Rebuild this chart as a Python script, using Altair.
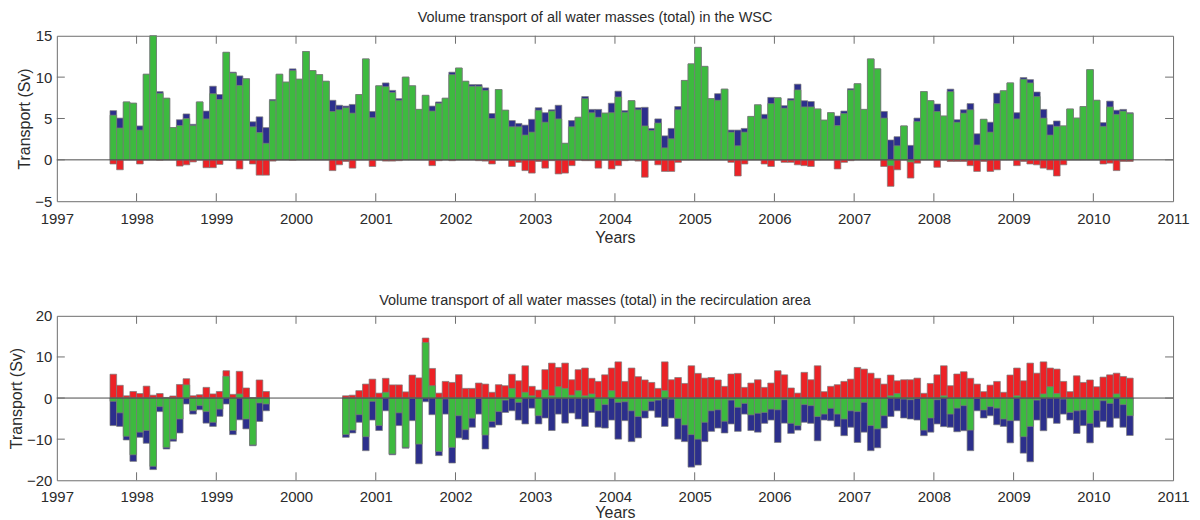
import altair as alt
import pandas as pd

# ---------------- data (monthly, Sep 1997 .. Jun 2010) ----------------
START_YEAR = 1997
START_MONTH = 9
YEAR_TICKS = list(range(1997, 2012))

# WSC panel: total positive (blue), green component, negative part (red)
wsc_blue = [5.95, 5.05, 7.0, 6.85, 4.1, 10.35, 15.0, 8.25, 7.45, 3.9, 4.85, 5.55, 4.3, 7.0, 5.9, 8.9,
            7.9, 13.0, 10.6, 10.15, 9.8, 4.6, 5.2, 3.9, 7.3, 10.35, 9.4, 11.0, 9.75, 13.1, 10.8, 10.3,
            9.5, 7.2, 6.6, 6.5, 6.7, 7.9, 12.2, 5.85, 8.95, 9.3, 8.4, 7.4, 10.0, 8.95, 6.1, 7.8,
            6.5, 7.0, 7.45, 10.6, 11.1, 9.5, 9.1, 9.1, 8.7, 5.6, 8.5, 6.0, 4.75, 4.4, 4.2, 4.9,
            6.3, 5.7, 6.05, 6.6, 2.0, 4.75, 5.15, 7.65, 6.1, 6.1, 5.65, 6.85, 8.3, 5.95, 7.15, 6.3,
            6.35, 3.8, 4.95, 2.9, 3.8, 6.45, 9.6, 11.6, 13.6, 11.3, 7.4, 8.0, 8.55, 3.6, 3.6, 3.8,
            5.25, 6.65, 5.5, 7.55, 7.5, 6.55, 7.4, 9.15, 7.15, 7.05, 6.15, 4.8, 5.7, 5.3, 5.9, 8.6,
            9.2, 6.1, 12.2, 11.0, 5.85, 2.4, 2.8, 4.1, 1.75, 5.05, 8.25, 7.15, 6.75, 5.3, 8.55, 4.85,
            6.05, 6.8, 3.15, 4.9, 4.55, 8.05, 8.35, 9.3, 5.7, 9.95, 9.7, 8.2, 6.1, 4.25, 4.7, 4.1,
            6.15, 5.05, 6.45, 10.9, 7.2, 4.5, 7.1, 6.0, 6.1, 5.7]
wsc_green = [5.4, 3.85, 7.0, 6.85, 3.6, 10.35, 15.0, 8.05, 7.45, 3.9, 4.15, 5.0, 4.15, 7.0, 4.95, 8.0,
             7.3, 13.0, 10.5, 9.0, 9.8, 4.0, 3.3, 2.0, 7.15, 10.35, 9.4, 10.8, 9.75, 13.1, 10.8, 10.3,
             9.5, 5.85, 6.05, 6.3, 5.65, 7.9, 12.2, 5.1, 8.95, 8.85, 8.15, 7.2, 10.0, 8.95, 6.1, 7.8,
             5.9, 6.85, 7.45, 10.3, 11.1, 9.5, 8.9, 8.9, 8.4, 5.0, 8.5, 6.0, 4.0, 4.0, 3.0, 3.35,
             6.0, 4.55, 5.9, 4.95, 2.0, 4.0, 5.15, 7.4, 5.7, 5.15, 5.65, 5.7, 7.6, 5.75, 7.15, 6.05,
             4.1, 3.55, 4.45, 1.45, 2.55, 6.05, 9.6, 11.6, 13.6, 11.3, 7.4, 7.2, 8.55, 3.35, 1.7, 3.35,
             5.25, 6.65, 4.95, 6.8, 7.5, 6.25, 7.2, 8.45, 6.4, 6.4, 6.15, 4.8, 5.7, 4.15, 5.6, 8.45,
             9.2, 6.1, 12.2, 11.0, 5.05, -0.7, 1.7, 4.1, -0.25, 4.65, 8.25, 7.15, 5.85, 5.3, 8.25, 4.55,
             5.65, 6.05, 1.8, 4.9, 3.35, 6.8, 8.35, 9.3, 4.95, 9.75, 9.3, 7.65, 5.05, 3.0, 4.05, 4.1,
             6.15, 5.05, 6.45, 10.9, 7.2, 4.05, 6.4, 5.5, 5.9, 5.6]
wsc_red = [-0.5, -1.2, 0.0, 0.0, -0.5, 0.0, 0.0, -0.05, 0.0, 0.0, -0.75, -0.6, -0.25, 0.0, -0.95, -0.95,
           -0.55, 0.0, -0.05, -1.1, 0.0, -0.5, -1.85, -1.85, -0.15, 0.0, 0.0, -0.05, 0.0, 0.0, 0.0, 0.0,
           0.0, -1.3, -0.6, -0.2, -1.0, 0.0, 0.0, -0.8, 0.0, -0.15, -0.15, -0.1, 0.0, 0.0, 0.0, 0.0,
           -0.7, -0.1, 0.0, -0.1, 0.0, 0.0, 0.0, -0.1, -0.15, -0.5, 0.0, 0.0, -0.8, -0.3, -1.3, -1.6,
           -0.2, -1.0, -0.1, -1.7, -1.6, -0.7, 0.0, -0.1, -0.1, -1.0, 0.0, -1.1, -0.7, -0.1, 0.0, -0.15,
           -2.1, 0.0, -0.6, -1.4, -1.4, -0.3, 0.0, 0.0, 0.0, 0.0, 0.0, 0.0, 0.0, -0.3, -1.95, -0.5,
           0.0, 0.0, -0.5, -0.8, 0.0, -0.3, -0.3, -0.6, -0.7, -0.8, 0.0, 0.0, 0.0, -1.1, -0.3, -0.1,
           0.0, 0.0, 0.0, 0.0, -0.8, -3.2, -1.2, 0.0, -2.2, -0.4, 0.0, 0.0, -0.9, 0.0, -0.2, -0.2,
           -0.2, -0.7, -1.4, -0.2, -1.4, -1.2, 0.0, 0.0, -0.7, -0.2, -0.5, -0.6, -1.0, -1.2, -1.95, -0.6,
           0.0, 0.0, 0.0, 0.0, 0.0, -0.5, -0.4, -1.3, -0.2, -0.2]

# Recirculation panel: positive part (red), green component, negative total (blue); None = no data
N = None
rec_red = [5.8, 3.1, 0.55, 1.6, 1.1, 2.9, 0.7, 1.1, 0.15, 0.5, 3.3, 4.7, 0.55, 0.8, 2.6, 1.0,
           1.6, 6.65, 0.9, 6.5, 2.45, 0.1, 4.4, 1.6, N, N, N, N, N, N, N, N,
           N, N, N, 0.55, 0.7, 1.8, 3.4, 4.6, 1.2, 4.8, 3.2, 3.2, 1.5, 5.6, 4.9, 14.6,
           7.2, 1.2, 4.05, 3.8, 5.7, 2.35, 2.35, 3.65, 3.4, 1.4, 3.25, 3.0, 5.8, 4.2, 7.85, 2.85,
           1.95, 6.9, 8.5, 7.45, 8.5, 4.45, 6.9, 7.3, 4.8, 4.05, 5.65, 7.3, 8.8, 4.05, 7.3, 5.2,
           4.4, 3.8, 2.35, 8.8, 4.45, 5.0, 3.55, 7.85, 6.0, 4.85, 5.0, 4.4, 2.85, 5.85, 6.0, 2.6,
           3.65, 4.45, 2.6, 3.65, 6.65, 5.65, 2.45, 1.2, 6.25, 4.45, 7.85, 1.55, 2.85, 3.25, 4.05, 4.6,
           7.45, 7.05, 6.05, 4.8, 3.4, 5.6, 4.2, 4.45, 4.45, 4.85, 1.15, 3.55, 5.65, 7.85, 3.0, 5.85,
           6.4, 4.8, 3.4, 1.55, 3.15, 4.05, 1.4, 5.6, 7.3, 4.2, 8.5, 6.05, 8.8, 7.3, 7.05, 4.05,
           1.55, 5.4, 3.8, 4.4, 2.75, 5.1, 5.65, 6.05, 5.25, 4.85]
rec_green = [-0.8, -3.6, -9.3, -13.8, -8.3, -7.9, -16.6, -2.1, -12.0, -10.0, -5.1, 3.2, -3.1, -1.85, -3.3, -5.9,
             -2.7, 5.3, -7.9, 1.0, -5.1, -11.4, -1.2, -1.45, N, N, N, N, N, N, N, N,
             N, N, N, -8.9, -7.8, -4.05, -9.4, -0.8, -6.7, 1.4, -13.6, -3.6, -12.0, -0.1, -11.2, 13.5,
             3.0, -13.0, -0.2, -12.0, -4.3, -7.7, -4.9, -0.1, -9.0, -5.7, -3.3, -0.5, 2.35, -1.05, 1.4, 0.55,
             -4.3, 2.0, 0.55, 2.75, 2.35, 0.7, 1.8, 0.55, 1.0, -3.1, -1.6, 1.8, -1.05, -0.9, -3.1, -4.5,
             -3.1, -0.8, -0.5, 1.8, -0.25, -4.95, -6.55, -8.9, -10.0, -5.9, -3.1, -2.85, -5.65, -0.5, -2.25, -1.3,
             -4.1, -3.7, -3.5, -2.7, -2.85, -0.4, -6.15, -6.7, -1.6, -1.85, -4.5, -3.9, -2.5, -3.9, -5.1, -3.1,
             -3.3, -1.05, -6.7, -7.5, -4.3, 0.55, 1.1, -0.25, -0.4, -0.1, -7.8, -4.85, -0.4, 0.55, -3.9, -2.45,
             -1.85, -7.8, -0.1, -2.9, -2.1, -2.45, -5.1, -5.5, 0.55, -9.4, -6.9, -0.5, 1.0, 2.75, 1.1, -0.25,
             -3.5, -3.1, -2.9, -6.15, -3.0, -0.65, -1.3, 1.0, -1.6, -4.3]
rec_blue = [-6.7, -6.9, -10.2, -15.4, -9.55, -11.0, -17.4, -3.3, -12.4, -10.5, -8.5, -1.45, -3.9, -2.85, -6.1, -6.9,
            -4.45, -1.45, -8.9, -5.3, -7.5, -11.6, -5.7, -3.1, N, N, N, N, N, N, N, N,
            N, N, N, -9.55, -8.5, -5.9, -12.8, -5.35, -7.9, -3.1, -13.8, -6.7, -12.2, -5.5, -16.0, -0.9,
            -4.05, -14.0, -3.9, -15.8, -9.7, -10.1, -7.1, -3.9, -12.4, -7.1, -6.55, -3.5, -3.1, -5.35, -6.3, -2.45,
            -6.3, -4.85, -7.9, -3.9, -6.1, -3.65, -5.1, -6.9, -3.5, -7.1, -7.3, -5.35, -10.0, -5.5, -10.6, -9.7,
            -4.85, -3.1, -4.7, -6.9, -4.85, -10.0, -10.6, -16.8, -16.3, -10.6, -8.1, -7.3, -8.5, -6.3, -8.1, -3.9,
            -7.9, -8.3, -6.15, -5.35, -10.8, -6.1, -8.6, -7.8, -5.9, -6.15, -10.4, -5.35, -5.5, -6.95, -9.15, -7.1,
            -10.8, -8.3, -12.8, -12.1, -7.3, -4.5, -3.1, -4.85, -5.1, -5.35, -9.15, -8.3, -6.3, -6.95, -7.1, -8.2,
            -7.95, -12.8, -3.1, -4.85, -4.3, -6.5, -6.9, -10.9, -5.5, -13.4, -15.5, -5.35, -7.95, -4.85, -6.15, -3.9,
            -5.35, -8.6, -6.7, -10.9, -7.1, -5.65, -7.1, -4.9, -7.1, -9.1]

WSC_TICKS = [-5, 0, 5, 10, 15]
REC_TICKS = [-20, -10, 0, 10, 20]

# ---------------- styling ----------------
GREEN = "#3dba3f"
BLUE = "#2c2f8c"
RED = "#ec2226"
EDGE = "#7a7a7a"
FRAME = "#6e6e6e"
TEXT = "#2b2b2b"
FONT = "Liberation Sans"


def month_frame(cols):
    n = len(next(iter(cols.values())))
    x0 = [START_YEAR + (START_MONTH - 1 + i) / 12.0 for i in range(n)]
    d = {"x0": x0, "x1": [v + 1.0 / 12.0 for v in x0]}
    d.update(cols)
    return pd.DataFrame(d)


def panel(df, order, ydom, yticks, title, w, h, toff, lpad, tpad):
    xs = alt.Scale(domain=[1997, 2011], nice=False, zero=False)
    ys = alt.Scale(domain=ydom, nice=False, zero=False)
    xaxis = alt.Axis(values=YEAR_TICKS, format="d", ticks=False, tickSize=0, grid=False, domain=False,
                     title="Years", labelPadding=lpad, titlePadding=tpad, labelFlush=False)
    yaxis = alt.Axis(values=yticks, format="d", ticks=False, tickSize=0, grid=False, domain=False,
                     title="Transport (Sv)", labelPadding=5, titlePadding=2)
    layers = []
    for field, color in order:
        enc = dict(
            x=alt.X("x0:Q", scale=xs, axis=xaxis),
            x2="x1:Q",
            y=alt.Y(f"{field}:Q", scale=ys, axis=yaxis),
            y2=alt.datum(0),
        )
        layers.append(
            alt.Chart(df).transform_filter(f"isValid(datum.{field})")
            .mark_bar(color=color, stroke=EDGE, strokeWidth=0.7, opacity=1)
            .encode(**enc)
        )
    zero = alt.Chart(pd.DataFrame({"z": [0]})).mark_rule(color="#4a4a4a", strokeWidth=1).encode(
        y=alt.Y("z:Q", scale=ys, axis=yaxis))
    xt = pd.DataFrame({"yr": YEAR_TICKS[1:-1]})
    yt = pd.DataFrame({"v": yticks[1:-1]})
    tk = 8
    top_ticks = alt.Chart(xt).mark_rule(color=FRAME).encode(
        x=alt.X("yr:Q", scale=xs, axis=xaxis), y=alt.value(0), y2=alt.value(tk))
    bot_ticks = alt.Chart(xt).mark_rule(color=FRAME).encode(
        x=alt.X("yr:Q", scale=xs, axis=xaxis), y=alt.value(h), y2=alt.value(h - tk))
    left_ticks = alt.Chart(yt).mark_rule(color=FRAME).encode(
        y=alt.Y("v:Q", scale=ys, axis=yaxis), x=alt.value(0), x2=alt.value(tk))
    right_ticks = alt.Chart(yt).mark_rule(color=FRAME).encode(
        y=alt.Y("v:Q", scale=ys, axis=yaxis), x=alt.value(w - tk), x2=alt.value(w))
    return alt.layer(*layers, zero, top_ticks, bot_ticks, left_ticks, right_ticks).properties(
        width=w, height=h,
        title=alt.TitleParams(title, fontSize=14.5, fontWeight="normal", font=FONT, color=TEXT,
                              anchor="middle", offset=toff, dx=-20),
    )


wsc = month_frame({"blue": wsc_blue, "green": wsc_green, "red": wsc_red})
rec = month_frame({"red": rec_red, "green": rec_green, "blue": rec_blue})

top = panel(wsc, [("blue", BLUE), ("red", RED), ("green", GREEN)], [-5, 15], WSC_TICKS,
            "Volume transport of all water masses (total) in the WSC", 1120, 166, 3, 10, 3)
bottom = panel(rec, [("red", RED), ("blue", BLUE), ("green", GREEN)], [-20, 20], REC_TICKS,
               "Volume transport of all water masses (total) in the recirculation area", 1120, 165, 0, 9, 0)

chart = alt.concat(top, bottom, columns=1).properties(
    spacing=47,
    padding={"left": 0, "top": 1, "right": 2, "bottom": 0},
    background="white",
).configure_view(stroke=FRAME, strokeWidth=1).configure_axis(
    labelFont=FONT, titleFont=FONT, labelFontSize=15, titleFontSize=16,
    labelColor=TEXT, titleColor=TEXT, titleFontWeight="normal",
)

chart.save("out.html", embed_options={"renderer": "svg", "actions": False})
